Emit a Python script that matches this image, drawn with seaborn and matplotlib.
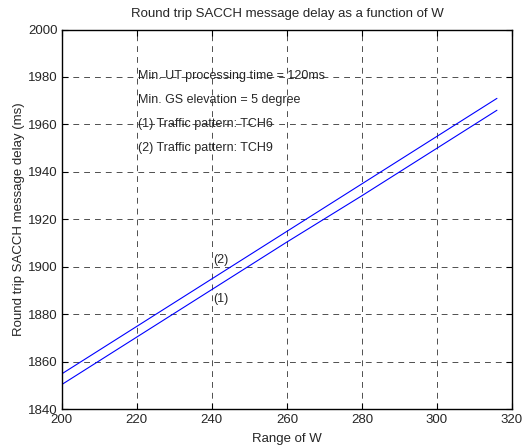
import pandas as pd
import numpy as np
import seaborn as sns
import matplotlib.pyplot as plt

sns.set_style("white")
plt.rcParams['font.family'] = ['Liberation Sans', 'DejaVu Sans']
plt.rcParams['font.size'] = 9.5

# Values
w_range = [200, 220, 240, 260, 280, 300, 316]
delay_tch6 = [1850.5, 1870.5, 1890.5, 1910.5, 1930.0, 1950.0, 1966.0]
delay_tch9 = [1855.0, 1875.0, 1895.0, 1915.0, 1935.0, 1955.0, 1971.0]

notes = ["Min. UT processing time = 120ms",
         "Min. GS elevation = 5 degree",
         "(1) Traffic pattern: TCH6",
         "(2) Traffic pattern: TCH9"]

df = pd.DataFrame({
    "W": w_range * 2,
    "delay": delay_tch6 + delay_tch9,
    "pattern": ["TCH6"] * len(w_range) + ["TCH9"] * len(w_range),
})

fig = plt.figure(figsize=(5.24, 4.47), dpi=100)
ax = fig.add_axes([0.118, 0.084, 0.859, 0.85])

sns.lineplot(data=df, x="W", y="delay", hue="pattern",
             palette=["#0000ff", "#0000ff"], linewidth=0.8, legend=False, ax=ax)

ax.set_xlim(200, 320)
ax.set_ylim(1840, 2000)
ax.set_xticks(np.arange(200, 321, 20))
ax.set_yticks(np.arange(1840, 2001, 20))
ax.grid(True, color="#333333", linestyle=(0, (7, 6)), linewidth=0.6)
ax.tick_params(direction="in", length=4, top=True, right=True, labelsize=9.5,
               bottom=True, left=True, color="black", pad=3)
for s in ax.spines.values():
    s.set_color("black")
    s.set_linewidth(1.0)

ax.set_title("Round trip SACCH message delay as a function of W", fontsize=9.5, pad=9)
ax.set_xlabel("Range of W", fontsize=9.5, labelpad=5)
ax.set_ylabel("Round trip SACCH message delay (ms)", fontsize=9.5, labelpad=2)

for i, t in enumerate(notes):
    ax.text(220.2, 1979.0 - 10 * i, t, fontsize=9, va="baseline", ha="left")
ax.text(240.3, 1901.6, "(2)", fontsize=9, va="baseline")
ax.text(240.3, 1885.2, "(1)", fontsize=9, va="baseline")

fig.savefig("out.png", dpi=100)
